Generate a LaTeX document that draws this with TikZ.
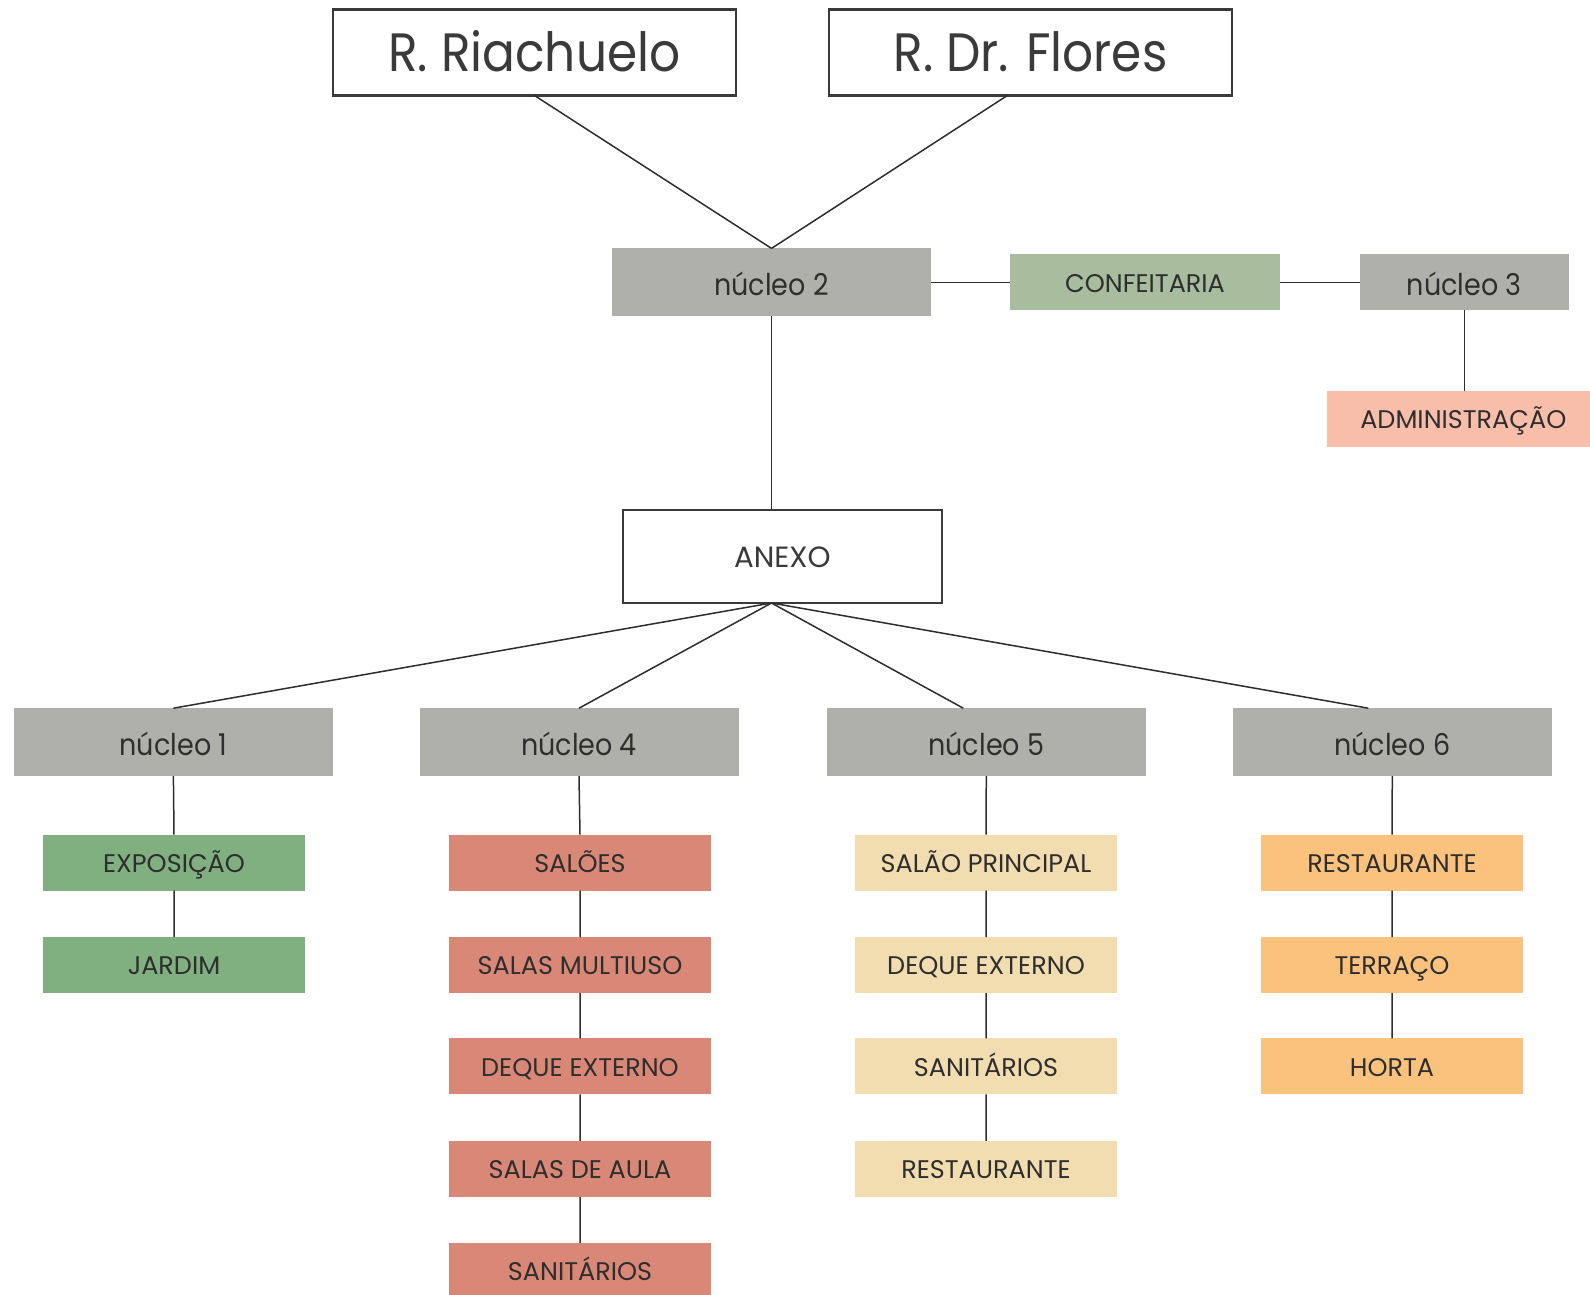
\documentclass[tikz,border=0pt]{standalone}
\usepackage{fontspec}
\setmainfont{Poppins}[FakeStretch=0.9]
\newfontfamily\labelfont{Poppins}
\usetikzlibrary{calc}
\definecolor{ink}{HTML}{2E2E2E}
\definecolor{frame}{HTML}{3A3A3A}
\definecolor{graybox}{HTML}{B0B0AB}
\definecolor{confc}{HTML}{A7BD9E}
\definecolor{admc}{HTML}{F9BEA9}
\definecolor{greenc}{HTML}{80AF80}
\definecolor{salmonc}{HTML}{D98877}
\definecolor{beigec}{HTML}{F2DDB0}
\definecolor{orangec}{HTML}{FBC27E}
\begin{document}
\begin{tikzpicture}[x=1pt,y=-1pt,
  box/.style={rectangle, inner sep=0pt, outer sep=0pt, text=ink, anchor=center, text depth=0pt},
  titlebox/.style={box, draw=frame, line width=2.5pt, fill=white, text=frame, minimum width=403pt, minimum height=86pt, text height=37.8pt, font=\fontsize{54}{60}\selectfont},
  anexbox/.style={box, draw=frame, line width=2.5pt, fill=white, text=frame, minimum width=319pt, minimum height=93pt, text height=21.5pt, font=\labelfont\fontsize{29.3}{34}\selectfont},
  nuc/.style={box, fill=graybox, minimum width=319pt, minimum height=68pt, text height=26pt, font=\fontsize{30}{36}\selectfont},
  leaf/.style={box, minimum width=262pt, minimum height=56pt, text height=19.5pt, font=\labelfont\fontsize{25.5}{30}\selectfont},
  link/.style={draw=ink, line width=1.5pt}]
\clip (0,0) rectangle (1590,1294);
\fill[white] (0,0) rectangle (1590,1294);
% top
\node[titlebox] (rr) at (534.3,52.4) {R. Riachuelo};
\node[titlebox] (fl) at (1030.5,52.4) {R. Dr. Flores};
\node[nuc] (n2) at (771.5,282.4) {núcleo 2};
\node[leaf, fill=confc, minimum width=270pt] (conf) at (1145,282.4) {CONFEITARIA};
\node[nuc, minimum width=209pt, minimum height=56pt] (n3) at (1464.3,282.4) {núcleo 3};
\node[leaf, fill=admc, minimum width=272pt] (adm) at (1463.3,418.8) {ADMINISTRAÇÃO};
\node[anexbox] (anx) at (782.4,556.5) {ANEXO};
% nucleos
\node[nuc] (n1) at (173.4,742.2) {núcleo 1};
\node[nuc] (n4) at (579,742.2) {núcleo 4};
\node[nuc] (n5) at (986.3,742.2) {núcleo 5};
\node[nuc] (n6) at (1392.3,742.2) {núcleo 6};
% leaves
\node[leaf, fill=greenc] (a1) at (174,862.5) {EXPOSIÇÃO};
\node[leaf, fill=greenc] (a2) at (174,965) {JARDIM};
\node[leaf, fill=salmonc] (b1) at (580,862.5) {SALÕES};
\node[leaf, fill=salmonc] (b2) at (580,965) {SALAS MULTIUSO};
\node[leaf, fill=salmonc] (b3) at (580,1066.3) {DEQUE EXTERNO};
\node[leaf, fill=salmonc] (b4) at (580,1168.8) {SALAS DE AULA};
\node[leaf, fill=salmonc] (b5) at (580,1271) {SANITÁRIOS};
\node[leaf, fill=beigec] (c1) at (986,862.5) {SALÃO PRINCIPAL};
\node[leaf, fill=beigec] (c2) at (986,965) {DEQUE EXTERNO};
\node[leaf, fill=beigec] (c3) at (986,1066.3) {SANITÁRIOS};
\node[leaf, fill=beigec] (c4) at (986,1168.8) {RESTAURANTE};
\node[leaf, fill=orangec] (d1) at (1392,862.5) {RESTAURANTE};
\node[leaf, fill=orangec] (d2) at (1392,965) {TERRAÇO};
\node[leaf, fill=orangec] (d3) at (1392,1066.3) {HORTA};
% connectors
\draw[link] (rr.south) -- (n2.north);
\draw[link] ($(fl.south)+(-23,0)$) -- (n2.north);
\draw[link] (n2.east) -- (conf.west);
\draw[link] (conf.east) -- (n3.west);
\draw[link] (n3.south) -- (n3.south |- adm.north);
\draw[link] (n2.south) -- (n2.south |- anx.north);
\coordinate (hub) at (n2.south |- anx.south);
\draw[link] (hub) -- (n1.north);
\draw[link] (hub) -- (n4.north);
\draw[link] (hub) -- ($(n5.north)+(-23,0)$);
\draw[link] (hub) -- ($(n6.north)+(-24,0)$);
\draw[link] (n1.south) -- (a1.north) (a1.south) -- (a2.north);
\draw[link] (n4.south) -- (b1.north) (b1.south) -- (b2.north) (b2.south) -- (b3.north) (b3.south) -- (b4.north) (b4.south) -- (b5.north);
\draw[link] (n5.south) -- (c1.north) (c1.south) -- (c2.north) (c2.south) -- (c3.north) (c3.south) -- (c4.north);
\draw[link] (n6.south) -- (d1.north) (d1.south) -- (d2.north) (d2.south) -- (d3.north);
\end{tikzpicture}
\end{document}
